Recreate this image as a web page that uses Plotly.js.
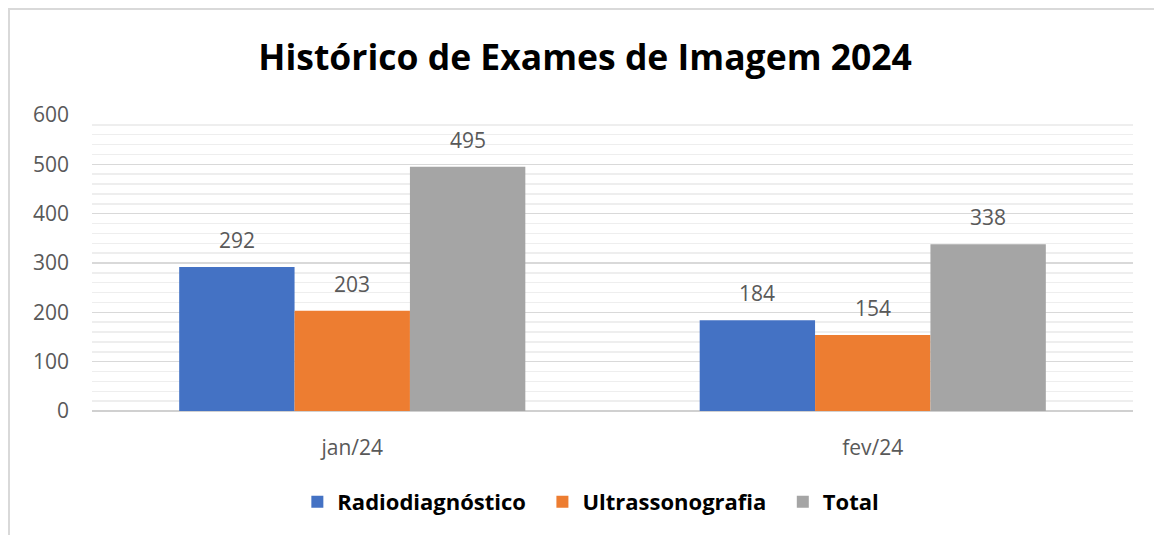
<!DOCTYPE html>
<html>
<head>
<meta charset="utf-8">
<script src="https://cdn.plot.ly/plotly-3.0.1.min.js"></script>
<style>
  html, body { margin: 0; padding: 0; background: #ffffff; }
  #chart { width: 1154px; height: 535px; }
  #frame { position: absolute; left: 8px; top: 8px; width: 1160px; height: 600px;
           border-top: 2px solid #d9d9d9; border-left: 2px solid #d9d9d9;
           pointer-events: none; }
</style>
</head>
<body>
<div id="chart"></div>
<div id="frame"></div>
<script>
const categories = ["jan/24", "fev/24"];
const radiodiagnostico = [292, 184];
const ultrassonografia = [203, 154];
const total = [495, 338];
const seriesNames = ["Radiodiagnóstico", "Ultrassonografia", "Total"];
const seriesColors = ["#4472c4", "#ed7d31", "#a5a5a5"];
const seriesValues = [radiodiagnostico, ultrassonografia, total];

const FONT = "'Open Sans', sans-serif";
const BARGAP = 0.335;
const nSeries = seriesValues.length;
const barW = (1 - BARGAP) / nSeries;

const traces = seriesValues.map((vals, i) => ({
  type: "bar",
  name: seriesNames[i] + (i < nSeries - 1 ? "&nbsp;&nbsp;" : ""),
  x: categories,
  y: vals,
  marker: { color: seriesColors[i] }
}));

const annotations = [];
seriesValues.forEach((vals, i) => {
  vals.forEach((v, j) => {
    annotations.push({
      xref: "x", yref: "y",
      x: j + (i - (nSeries - 1) / 2) * barW,
      y: v,
      text: String(v),
      showarrow: false,
      yanchor: "middle",
      yshift: 27,
      font: { family: FONT, size: 21, color: "#595959" }
    });
  });
});

const layout = {
  width: 1154,
  height: 535,
  margin: { l: 92, r: 21, t: 115, b: 124 },
  paper_bgcolor: "#ffffff",
  plot_bgcolor: "#ffffff",
  barmode: "group",
  bargap: BARGAP,
  bargroupgap: 0,
  annotations: annotations,
  title: {
    text: "<b>Histórico de Exames de Imagem 2024</b>",
    font: { family: FONT, size: 35.5, color: "#000000" },
    x: 0.507, xref: "container", xanchor: "center",
    y: 1 - 58 / 535, yref: "container", yanchor: "middle"
  },
  xaxis: {
    type: "category",
    range: [-0.5, 1.5],
    showgrid: false,
    showline: false,
    zeroline: false,
    ticks: "",
    ticklabelstandoff: 22,
    tickfont: { family: FONT, size: 21, color: "#595959" }
  },
  yaxis: {
    range: [0, 600],
    dtick: 100,
    showgrid: true,
    gridcolor: "#d9d9d9",
    gridwidth: 1.5,
    zeroline: true,
    zerolinecolor: "#d0d0d0",
    zerolinewidth: 2,
    ticks: "",
    ticklabelstandoff: 22,
    tickfont: { family: FONT, size: 21, color: "#595959" },
    minor: { dtick: 20, showgrid: true, gridcolor: "#eeeeee", gridwidth: 1.5 }
  },
  showlegend: true,
  legend: {
    orientation: "h",
    xref: "container", x: 0.512, xanchor: "center",
    yref: "container", y: 1 - 502 / 535, yanchor: "middle",
    font: { family: FONT, size: 22, color: "#000000", weight: "bold" },
    itemwidth: 30,
    traceorder: "normal"
  }
};

Plotly.newPlot("chart", traces, layout, { displayModeBar: false, staticPlot: true });
</script>
</body>
</html>
